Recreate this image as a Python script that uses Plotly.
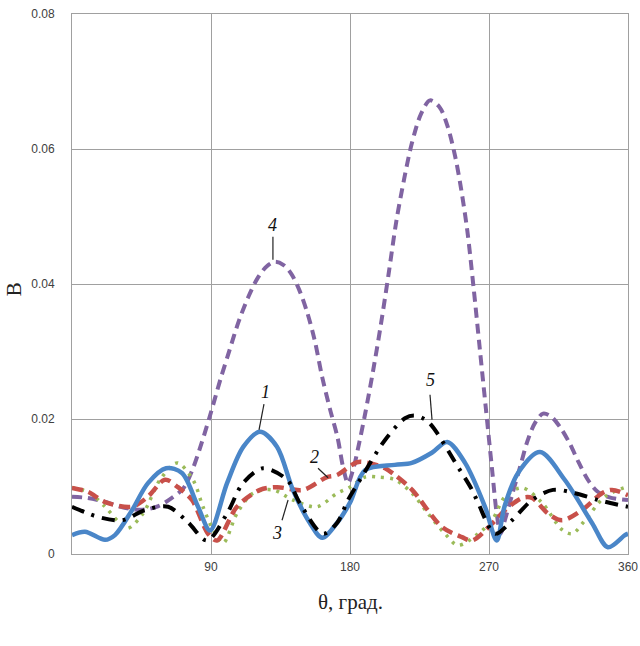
import plotly.graph_objects as go

# ---- data (theta in degrees, B values) ----
x1 = [0, 8.4, 21.4, 27.8, 38.9, 49.2, 60.9, 71.2, 81.6, 89.4, 100.4, 111, 121.7, 132.7, 143, 154, 162, 171.6, 180,
      189.7, 209, 220, 233, 243, 254.5, 267.4, 275, 280, 288.8, 303, 319, 336.7, 347, 358, 360]
y1 = [0.0028, 0.0033, 0.0021, 0.0028, 0.0065, 0.0105, 0.0127, 0.012, 0.007, 0.0035, 0.0105, 0.0159, 0.0181, 0.0159,
      0.0095, 0.0046, 0.0024, 0.0046, 0.0076, 0.0124, 0.0132, 0.0135, 0.015, 0.0166, 0.0135, 0.007, 0.002, 0.007,
      0.012, 0.0151, 0.011, 0.0046, 0.001, 0.0028, 0.003]

x2 = [0, 10.4, 21.4, 38.9, 49.2, 60.2, 68.6, 77.7, 88.1, 93.9, 106.8, 121.7, 132.7, 149.6, 165.1, 171.6, 184.5,
      191.7, 202.7, 209.1, 220.2, 239.6, 252.5, 259, 272, 280.4, 291.4, 297.9, 308.2, 317.3, 330.2, 343.2, 349.7, 360]
y2 = [0.0098, 0.0092, 0.0077, 0.007, 0.0085, 0.011, 0.0099, 0.008, 0.003, 0.002, 0.007, 0.0095, 0.0099, 0.0095,
      0.0114, 0.0117, 0.0136, 0.0135, 0.0127, 0.0117, 0.0095, 0.004, 0.0025, 0.002, 0.0045, 0.0065, 0.0083, 0.0083,
      0.006, 0.005, 0.0065, 0.009, 0.0095, 0.0087]

x3 = [0, 10.4, 21.4, 30, 36, 46, 57, 68, 78.3, 84.8, 91.3, 97.8, 106.8, 117.2, 130.1, 143.1, 158.6, 171.6, 180,
      189.7, 198.1, 209.1, 220.2, 230.5, 241.5, 249.9, 262.9, 272, 280.4, 291.4, 304.3, 317.3, 323.8, 332.2, 345.1,
      360]
y3 = [0.0098, 0.0092, 0.007, 0.0048, 0.0038, 0.006, 0.011, 0.0135, 0.011, 0.007, 0.0036, 0.0016, 0.006, 0.009,
      0.0095, 0.008, 0.007, 0.009, 0.0099, 0.0114, 0.0114, 0.011, 0.009, 0.006, 0.003, 0.0013, 0.003, 0.005, 0.0085,
      0.0098, 0.0076, 0.0036, 0.003, 0.005, 0.0085, 0.01]

x4 = [0, 10, 20, 30, 40, 48, 56, 64, 72, 78, 84, 90, 96, 102, 108, 114, 120, 126, 131.5, 137, 142, 147, 152, 157,
      162, 167, 172, 175.5, 178.7, 182, 186, 190, 195, 200, 205, 210, 215, 220, 226, 231.8, 238, 243, 248, 252, 256,
      260, 264, 268, 272, 275, 277.5, 280, 285, 290, 295, 300, 305, 310, 316, 322, 328, 334, 340, 348, 360]
y4 = [0.0085, 0.0083, 0.0078, 0.0071, 0.0066, 0.0066, 0.0071, 0.0082, 0.0097, 0.0125, 0.0165, 0.021, 0.0258, 0.0302,
      0.0345, 0.038, 0.0408, 0.0426, 0.0433, 0.0428, 0.0415, 0.0392, 0.0360, 0.0318, 0.0262, 0.0215, 0.0172, 0.0129,
      0.0105, 0.0125, 0.0165, 0.021, 0.0272, 0.034, 0.0415, 0.0493, 0.0555, 0.0608, 0.0652, 0.0672, 0.0662, 0.0635,
      0.0590, 0.0540, 0.0478, 0.0395, 0.0305, 0.0215, 0.0125, 0.006, 0.003, 0.0048, 0.0088, 0.0128, 0.0168, 0.0195,
      0.0208, 0.0204, 0.0188, 0.0165, 0.0136, 0.011, 0.0093, 0.0084, 0.008]

x5 = [0, 8.4, 16.8, 32.4, 47.3, 62.2, 75.1, 87.4, 100.4, 110.7, 123.7, 139.2, 147.6, 162.5, 171.6, 178.7, 186.5,
      202.7, 215.6, 222, 230.5, 249.9, 259, 262.9, 274, 284.9, 297.9, 311.4, 325.7, 340.6, 353.5, 360]
y5 = [0.007, 0.0062, 0.0055, 0.005, 0.0065, 0.007, 0.0047, 0.002, 0.006, 0.0105, 0.0127, 0.011, 0.0075, 0.003,
      0.0046, 0.008, 0.011, 0.0169, 0.0201, 0.0205, 0.0196, 0.0129, 0.0095, 0.0076, 0.003, 0.005, 0.008, 0.0095,
      0.009, 0.008, 0.0073, 0.007]

x_ticks = [90, 180, 270, 360]
y_ticks = [0, 0.02, 0.04, 0.06, 0.08]
y_tick_text = ["0", "0.02", "0.04", "0.06", "0.08"]

curve_labels = ["1", "2", "3", "4", "5"]
label_pos = [(125, 0.0240), (156.7, 0.0144), (132.7, 0.0031), (129.5, 0.0487), (231.8, 0.0258)]
leader_lines = [((124.3, 0.0222), (121.1, 0.0184)), ((159.3, 0.0127), (165.8, 0.0113)),
                ((136, 0.0050), (139.9, 0.0080)), ((130.1, 0.0470), (130.1, 0.0436)),
                ((231.8, 0.0236), (233.1, 0.0199))]

x_title = "θ, град."
y_title = "В"

fig = go.Figure()
sm = 0.9
fig.add_trace(go.Scatter(x=x4, y=y4, mode="lines", line=dict(color="#8064a2", width=4, dash="10px,6px", shape="spline", smoothing=sm)))
fig.add_trace(go.Scatter(x=x3, y=y3, mode="lines", line=dict(color="#9bbb59", width=3.5, dash="3px,6px", shape="spline", smoothing=sm)))
fig.add_trace(go.Scatter(x=x2, y=y2, mode="lines", line=dict(color="#c8504a", width=4.5, dash="11px,6px", shape="spline", smoothing=sm)))
fig.add_trace(go.Scatter(x=x1, y=y1, mode="lines", line=dict(color="#4a86c8", width=4.5, shape="spline", smoothing=sm)))
fig.add_trace(go.Scatter(x=x5, y=y5, mode="lines", line=dict(color="#000000", width=4, dash="13px,8px,3px,8px", shape="spline", smoothing=sm)))

for t, (ax, ay) in zip(curve_labels, label_pos):
    fig.add_annotation(x=ax, y=ay, xref="x", yref="y", text=t, showarrow=False,
                       font=dict(family="Liberation Serif", size=18, color="#111", style="italic"))

for (p0, p1) in leader_lines:
    fig.add_shape(type="line", xref="x", yref="y", x0=p0[0], y0=p0[1], x1=p1[0], y1=p1[1],
                  line=dict(color="#222", width=1.2))

fig.add_annotation(x=0.5, y=-0.088, xref="paper", yref="paper", text=x_title, showarrow=False,
                   font=dict(family="Liberation Serif", size=21, color="#222"), xanchor="center", yanchor="middle")
fig.add_annotation(x=-0.103, y=0.49, xref="paper", yref="paper", text=y_title, showarrow=False, textangle=-90,
                   font=dict(family="Liberation Serif", size=21, color="#222"), xanchor="center", yanchor="middle")

fig.update_layout(
    width=640, height=646, showlegend=False,
    margin=dict(l=72, r=12, t=14, b=92),
    plot_bgcolor="white", paper_bgcolor="white",
)
fig.update_xaxes(range=[0, 360], tickvals=x_ticks, ticktext=[str(v) for v in x_ticks],
                 showgrid=True, gridcolor="#a0a0a0", gridwidth=1, automargin=False,
                 showline=True, linecolor="#a0a0a0", linewidth=1, mirror=True, zeroline=False,
                 ticks="", ticklabelstandoff=2,
                 tickfont=dict(family="Liberation Sans", size=12, color="#404040"))
fig.update_yaxes(range=[0, 0.08], tickvals=y_ticks, ticktext=y_tick_text,
                 showgrid=True, gridcolor="#a0a0a0", gridwidth=1, automargin=False,
                 showline=True, linecolor="#a0a0a0", linewidth=1, mirror=True, zeroline=False,
                 ticks="", ticklabelstandoff=14,
                 tickfont=dict(family="Liberation Sans", size=12, color="#404040"))

fig.write_html("out.html", config={"displayModeBar": False},
               post_script="document.body.style.margin='0';document.body.style.overflow='hidden';")
